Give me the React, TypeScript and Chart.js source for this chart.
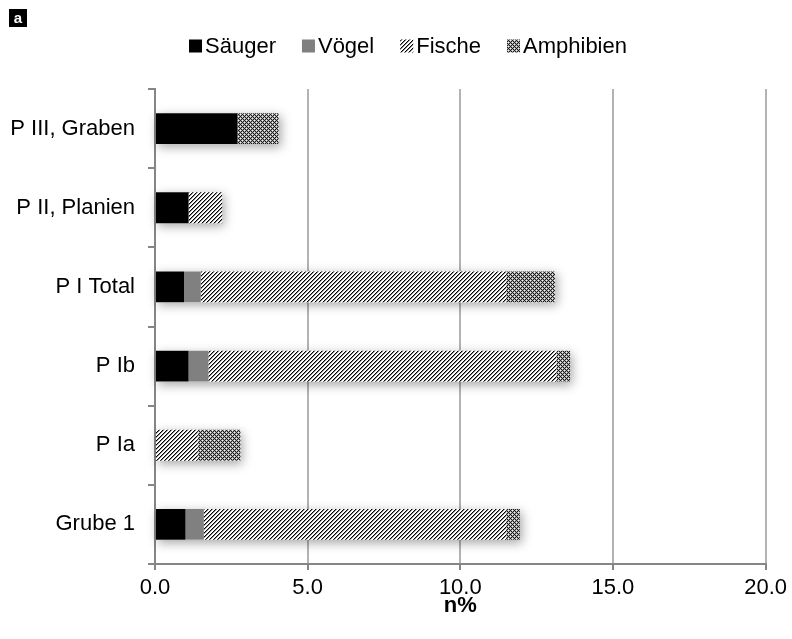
import React, { useEffect, useRef } from "react";
import { Chart, registerables } from "chart.js";

Chart.register(...registerables);

const categories = ["P III, Graben", "P II, Planien", "P I Total", "P Ib", "P Ia", "Grube 1"];
const seriesNames = ["Säuger", "Vögel", "Fische", "Amphibien"];
const saeuger = [2.7, 1.1, 0.95, 1.1, 0, 1.0];
const voegel = [0, 0, 0.55, 0.65, 0, 0.6];
const fische = [0, 1.1, 10.0, 11.4, 1.4, 9.9];
const amphibien = [1.35, 0, 1.6, 0.45, 1.4, 0.45];
const xTicks = [0, 5, 10, 15, 20];

const FONT = "'Liberation Sans', Arial, Helvetica, sans-serif";

function makePattern(rows: string[], colors: Record<string, string>): CanvasPattern | string {
  const c = document.createElement("canvas");
  const h = rows.length;
  const w = rows[0].length;
  c.width = w;
  c.height = h;
  const cx = c.getContext("2d");
  if (!cx) return "#888";
  for (let y = 0; y < h; y++) {
    for (let x = 0; x < w; x++) {
      cx.fillStyle = colors[rows[y][x]];
      cx.fillRect(x, y, 1, 1);
    }
  }
  const p = document.createElement("canvas").getContext("2d")!.createPattern(c, "repeat");
  return p || "#888";
}

function fischePattern() {
  const rows: string[] = [];
  for (let y = 0; y < 8; y++) {
    let r = "";
    for (let x = 0; x < 8; x++) {
      const k = (x + y) % 4;
      r += k === 0 ? "K" : k === 1 ? "g" : "w";
    }
    rows.push(r);
  }
  return makePattern(rows, { K: "#000000", g: "#8a8a8a", w: "#ffffff" });
}

function amphPattern() {
  const rows = [
    "KgwgKgwg",
    "gKgKgKgK",
    "wgKgwgKg",
    "gKgKgKgK",
    "KgwgKgwg",
    "gKgKgKgK",
    "wgKgwgKg",
    "gKgKgKgK",
  ];
  return makePattern(rows, { K: "#1a1a1a", g: "#a8a8a8", w: "#f0f0f0" });
}

const shadowPlugin = {
  id: "barShadow",
  beforeDatasetsDraw(chart: any) {
    const ctx = chart.ctx;
    const metas = chart.getSortedVisibleDatasetMetas();
    const n = chart.data.labels.length;
    ctx.save();
    ctx.shadowColor = "rgba(0,0,0,0.35)";
    ctx.shadowBlur = 10;
    ctx.shadowOffsetX = 2;
    ctx.shadowOffsetY = 3;
    ctx.fillStyle = "#ffffff";
    for (let i = 0; i < n; i++) {
      let minX = Infinity, maxX = -Infinity, top = 0, bottom = 0;
      metas.forEach((m: any) => {
        const el = m.data[i];
        if (!el) return;
        const a = Math.min(el.x, el.base);
        const b = Math.max(el.x, el.base);
        if (b - a > 0.5) {
          minX = Math.min(minX, a);
          maxX = Math.max(maxX, b);
        }
        top = el.y - el.height / 2;
        bottom = el.y + el.height / 2;
      });
      if (maxX > minX) ctx.fillRect(minX, top, maxX - minX, bottom - top);
    }
    ctx.restore();
  },
};

const decorPlugin = {
  id: "decor",
  afterDraw(chart: any) {
    const ctx = chart.ctx;
    const area = chart.chartArea;
    ctx.save();
    // panel letter
    ctx.fillStyle = "#000";
    ctx.fillRect(9, 9, 18, 18);
    ctx.fillStyle = "#fff";
    ctx.font = `bold 15px ${FONT}`;
    ctx.textAlign = "center";
    ctx.textBaseline = "middle";
    ctx.fillText("a", 18, 18.5);

    // axis title
    ctx.fillStyle = "#000";
    ctx.font = `bold 22px ${FONT}`;
    ctx.textAlign = "center";
    ctx.textBaseline = "middle";
    ctx.fillText("n%", (area.left + area.right) / 2, 606);

    // legend
    ctx.font = `22px ${FONT}`;
    ctx.textBaseline = "middle";
    ctx.textAlign = "left";
    const box = 13;
    const gap = 3;
    const spacing = 26;
    const ds = chart.data.datasets;
    let total = 0;
    const widths = ds.map((d: any) => ctx.measureText(d.label).width);
    widths.forEach((w: number, i: number) => {
      total += box + gap + w + (i < ds.length - 1 ? spacing : 0);
    });
    let x = 408 - total / 2;
    const y = 46;
    ds.forEach((d: any, i: number) => {
      ctx.fillStyle = d.backgroundColor;
      ctx.fillRect(x, y - box / 2, box, box);
      ctx.fillStyle = "#000";
      ctx.fillText(d.label, x + box + gap, y + 1);
      x += box + gap + widths[i] + spacing;
    });
    ctx.restore();
  },
};

export default function App() {
  const ref = useRef<HTMLCanvasElement | null>(null);
  useEffect(() => {
    if (!ref.current) return;
    const fills = ["#000000", "#808080", fischePattern(), amphPattern()];
    const values = [saeuger, voegel, fische, amphibien];
    const chart = new Chart(ref.current, {
      type: "bar",
      data: {
        labels: categories,
        datasets: seriesNames.map((name, i) => ({
          label: name,
          data: values[i],
          backgroundColor: fills[i] as any,
          borderWidth: 0,
          barPercentage: 0.39,
          categoryPercentage: 1,
        })),
      },
      options: {
        indexAxis: "y",
        animation: false,
        responsive: false,
        layout: { padding: { top: 89, right: 25, left: 0, bottom: 0 } },
        plugins: { legend: { display: false }, tooltip: { enabled: false } },
        scales: {
          x: {
            stacked: true,
            min: 0,
            max: 20,
            afterFit: (s: any) => {
              s.height = 75;
            },
            afterBuildTicks: (s: any) => {
              s.ticks = xTicks.map((v) => ({ value: v }));
            },
            ticks: {
              font: { family: FONT, size: 22 },
              color: "#000",
              padding: 5,
              callback: (v: any) => Number(v).toFixed(1),
            },
            grid: {
              color: (c: any) => (c.tick && c.tick.value === 0 ? "rgba(0,0,0,0)" : "#b3b3b3"),
              lineWidth: 2,
              tickColor: "#868686",
              tickLength: 6,
            },
            border: { color: "#868686", width: 2 },
          },
          y: {
            stacked: true,
            afterFit: (s: any) => {
              s.width = 155;
            },
            ticks: {
              font: { family: FONT, size: 22 },
              color: "#000",
              padding: 13,
            },
            grid: {
              drawOnChartArea: false,
              drawTicks: true,
              tickLength: 7,
              tickColor: "#868686",
              lineWidth: 2,
            },
            border: { color: "#868686", width: 2 },
          },
        },
      },
      plugins: [shadowPlugin, decorPlugin],
    });
    return () => chart.destroy();
  }, []);
  return (
    <div style={{ position: "fixed", left: 0, top: 0, width: 792, height: 639, background: "#fff" }}>
      <canvas ref={ref} width={792} height={639} />
    </div>
  );
}
